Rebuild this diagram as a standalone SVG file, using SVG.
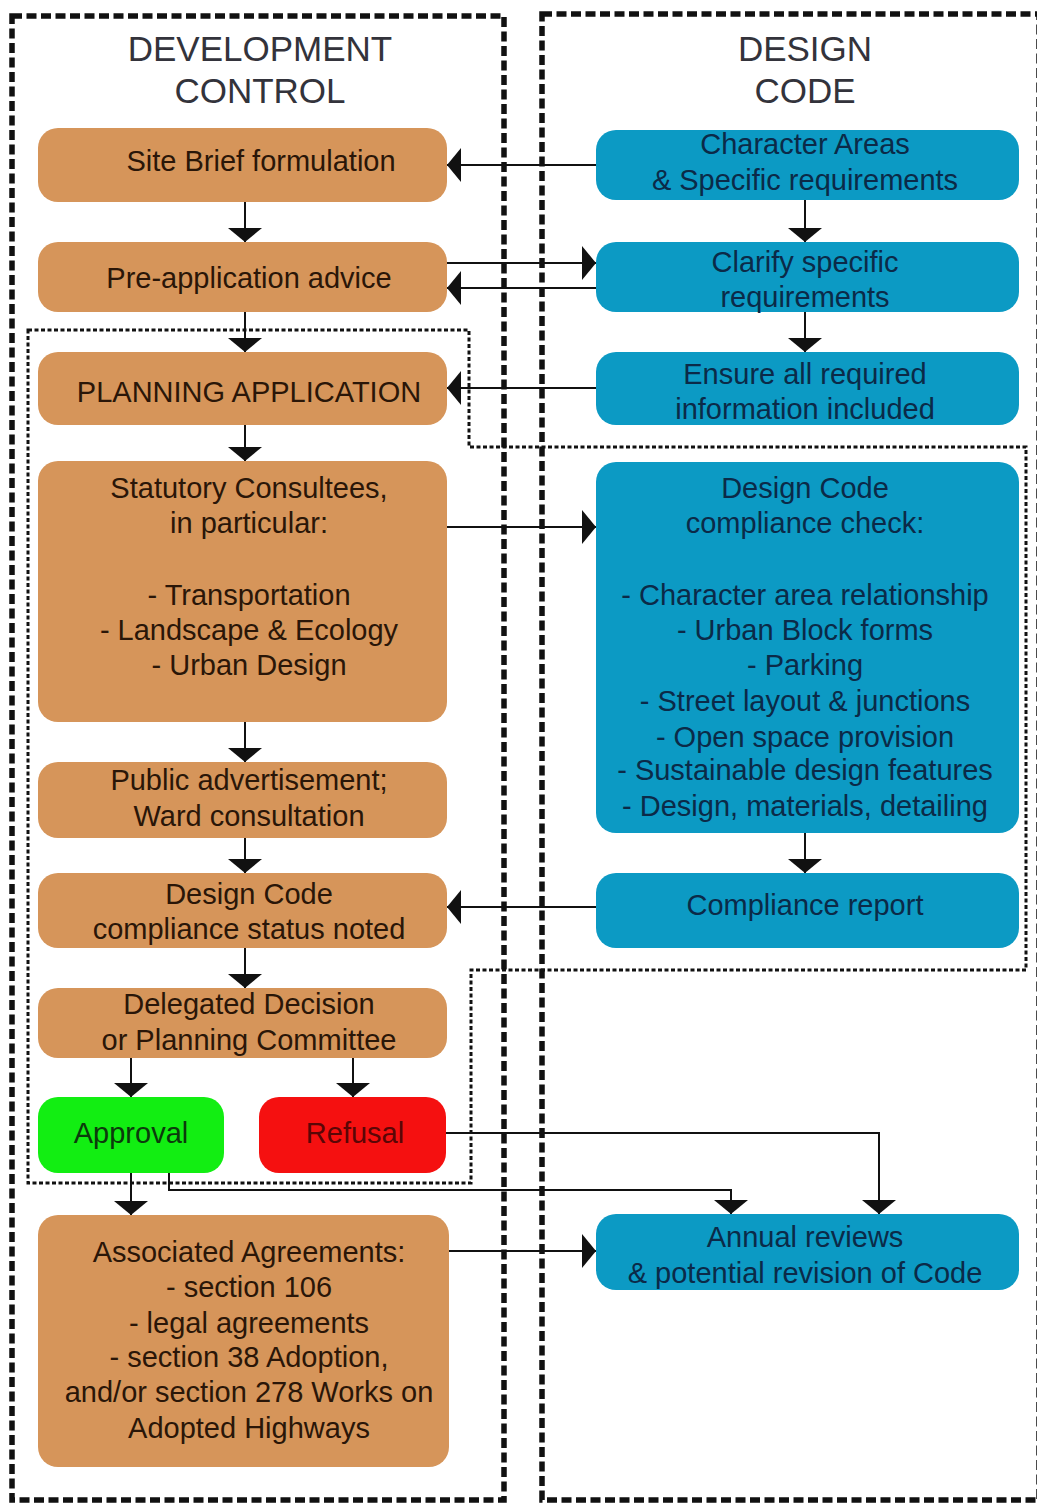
<svg xmlns="http://www.w3.org/2000/svg" width="1037" height="1506" viewBox="0 0 1037 1506">
  <style>
    .frame { fill: none; stroke: #111; stroke-width: 5.5; stroke-dasharray: 10 4.5; }
    .scope { fill: none; stroke: #111; stroke-width: 3; stroke-dasharray: 4 2.5; }
    .dc { fill: #D6955A; }
    .code { fill: #0C9AC4; }
    .ok { fill: #12EE12; }
    .no { fill: #F51010; }
    text { font-family: "Liberation Sans", Arial, sans-serif; font-size: 29px; text-anchor: middle; }
    .head { font-size: 35px; fill: #33333b; }
    .tdc { fill: #2a1608; }
    .tcode { fill: #0b2a48; }
    .tok { fill: #0c3a0c; }
    .tno { fill: #5a0606; }
    .wire { fill: none; stroke: #111; stroke-width: 2; marker-end: url(#ah); }
  </style>
  <defs>
    <marker id="ah" markerUnits="userSpaceOnUse" markerWidth="14" markerHeight="36" viewBox="0 -18 14 36" refX="14" refY="0" orient="auto">
      <path d="M0,-17 L14,0 L0,17 Z" fill="#111"/>
    </marker>
  </defs>
  <rect width="1037" height="1506" fill="#fff"/>

  <!-- column frames -->
  <rect class="frame" x="12" y="16" width="492" height="1484"/>
  <rect class="frame" x="542" y="14" width="497" height="1486"/>
  <!-- planning application scope outline -->
  <path class="scope" d="M28,330 H469 V447 H1026 V970 H471 V1183 H28 Z"/>

  <!-- column headings -->
  <g id="heading-dc">
    <text class="head" x="260" y="61">DEVELOPMENT</text>
    <text class="head" x="260" y="103">CONTROL</text>
  </g>
  <g id="heading-code">
    <text class="head" x="805" y="61">DESIGN</text>
    <text class="head" x="805" y="103">CODE</text>
  </g>

  <!-- development control column -->
  <g id="site-brief">
    <rect class="dc" x="38" y="128" width="409" height="74" rx="20"/>
    <text class="tdc" x="261" y="171">Site Brief formulation</text>
  </g>
  <g id="pre-application">
    <rect class="dc" x="38" y="242" width="409" height="70" rx="20"/>
    <text class="tdc" x="249" y="288">Pre-application advice</text>
  </g>
  <g id="planning-application">
    <rect class="dc" x="38" y="352" width="409" height="73" rx="20"/>
    <text class="tdc" x="249" y="402">PLANNING APPLICATION</text>
  </g>
  <g id="statutory-consultees">
    <rect class="dc" x="38" y="461" width="409" height="261" rx="20"/>
    <text class="tdc" x="249" y="498">Statutory Consultees,</text>
    <text class="tdc" x="249" y="533">in particular:</text>
    <text class="tdc" x="249" y="605">- Transportation</text>
    <text class="tdc" x="249" y="640">- Landscape &amp; Ecology</text>
    <text class="tdc" x="249" y="675">- Urban Design</text>
  </g>
  <g id="public-advertisement">
    <rect class="dc" x="38" y="762" width="409" height="76" rx="20"/>
    <text class="tdc" x="249" y="790">Public advertisement;</text>
    <text class="tdc" x="249" y="826">Ward consultation</text>
  </g>
  <g id="status-noted">
    <rect class="dc" x="38" y="873" width="409" height="75" rx="20"/>
    <text class="tdc" x="249" y="904">Design Code</text>
    <text class="tdc" x="249" y="939">compliance status noted</text>
  </g>
  <g id="decision">
    <rect class="dc" x="38" y="988" width="409" height="70" rx="20"/>
    <text class="tdc" x="249" y="1014">Delegated Decision</text>
    <text class="tdc" x="249" y="1050">or Planning Committee</text>
  </g>
  <g id="approval">
    <rect class="ok" x="38" y="1097" width="186" height="76" rx="20"/>
    <text class="tok" x="131" y="1143">Approval</text>
  </g>
  <g id="refusal">
    <rect class="no" x="259" y="1097" width="187" height="76" rx="20"/>
    <text class="tno" x="355" y="1143">Refusal</text>
  </g>
  <g id="agreements">
    <rect class="dc" x="38" y="1215" width="411" height="252" rx="20"/>
    <text class="tdc" x="249" y="1262">Associated Agreements:</text>
    <text class="tdc" x="249" y="1297">- section 106</text>
    <text class="tdc" x="249" y="1333">- legal agreements</text>
    <text class="tdc" x="249" y="1367">- section 38 Adoption,</text>
    <text class="tdc" x="249" y="1402">and/or section 278 Works on</text>
    <text class="tdc" x="249" y="1438">Adopted Highways</text>
  </g>

  <!-- design code column -->
  <g id="character-areas">
    <rect class="code" x="596" y="130" width="423" height="70" rx="20"/>
    <text class="tcode" x="805" y="154">Character Areas</text>
    <text class="tcode" x="805" y="190">&amp; Specific requirements</text>
  </g>
  <g id="clarify">
    <rect class="code" x="596" y="242" width="423" height="70" rx="20"/>
    <text class="tcode" x="805" y="272">Clarify specific</text>
    <text class="tcode" x="805" y="307">requirements</text>
  </g>
  <g id="ensure-info">
    <rect class="code" x="596" y="352" width="423" height="73" rx="20"/>
    <text class="tcode" x="805" y="384">Ensure all required</text>
    <text class="tcode" x="805" y="419">information included</text>
  </g>
  <g id="compliance-check">
    <rect class="code" x="596" y="462" width="423" height="371" rx="20"/>
    <text class="tcode" x="805" y="498">Design Code</text>
    <text class="tcode" x="805" y="533">compliance check:</text>
    <text class="tcode" x="805" y="605">- Character area relationship</text>
    <text class="tcode" x="805" y="640">- Urban Block forms</text>
    <text class="tcode" x="805" y="675">- Parking</text>
    <text class="tcode" x="805" y="711">- Street layout &amp; junctions</text>
    <text class="tcode" x="805" y="747">- Open space provision</text>
    <text class="tcode" x="805" y="780">- Sustainable design features</text>
    <text class="tcode" x="805" y="816">- Design, materials, detailing</text>
  </g>
  <g id="compliance-report">
    <rect class="code" x="596" y="873" width="423" height="75" rx="20"/>
    <text class="tcode" x="805" y="915">Compliance report</text>
  </g>
  <g id="annual-reviews">
    <rect class="code" x="596" y="1214" width="423" height="76" rx="20"/>
    <text class="tcode" x="805" y="1247">Annual reviews</text>
    <text class="tcode" x="805" y="1283">&amp; potential revision of Code</text>
  </g>

  <!-- connectors -->
  <g id="connectors">
    <!-- development control flow -->
    <path class="wire" d="M245,202 V242"/>
    <path class="wire" d="M245,312 V352"/>
    <path class="wire" d="M245,425 V461"/>
    <path class="wire" d="M245,722 V762"/>
    <path class="wire" d="M245,838 V873"/>
    <path class="wire" d="M245,948 V988"/>
    <path class="wire" d="M131,1058 V1097"/>
    <path class="wire" d="M353,1058 V1097"/>
    <path class="wire" d="M131,1173 V1215"/>
    <!-- design code flow -->
    <path class="wire" d="M805,200 V242"/>
    <path class="wire" d="M805,312 V352"/>
    <path class="wire" d="M805,833 V873"/>
    <!-- exchanges between columns -->
    <path class="wire" d="M596,165 H447"/>
    <path class="wire" d="M447,263 H596"/>
    <path class="wire" d="M596,288 H447"/>
    <path class="wire" d="M596,388 H447"/>
    <path class="wire" d="M447,527 H596"/>
    <path class="wire" d="M596,907 H447"/>
    <path class="wire" d="M449,1251 H596"/>
    <!-- outcomes feeding annual review -->
    <path class="wire" d="M169,1173 V1190 H731 V1214"/>
    <path class="wire" d="M446,1133 H879 V1214"/>
  </g>
</svg>
